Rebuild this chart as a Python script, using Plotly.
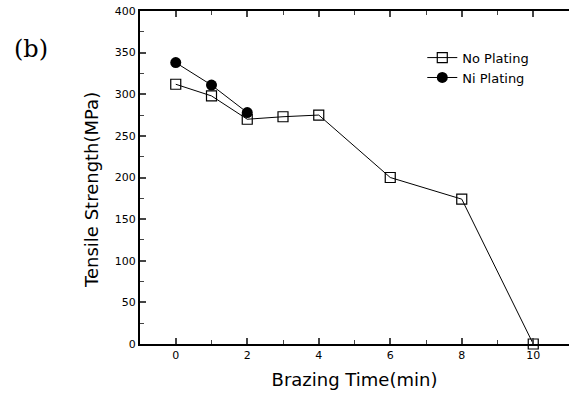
import plotly.graph_objects as go

time_no = [0, 1, 2, 3, 4, 6, 8, 10]
strength_no = [312, 298, 270, 273, 275, 200, 174, 0]
time_ni = [0, 1, 2]
strength_ni = [338, 311, 278]

fig = go.Figure()
fig.add_trace(go.Scatter(x=time_no, y=strength_no, mode="lines+markers", name="No Plating",
                         line=dict(color="black", width=1),
                         marker=dict(symbol="square-open", size=10, color="black", line=dict(width=1.2)),
                         cliponaxis=False))
fig.add_trace(go.Scatter(x=time_ni, y=strength_ni, mode="lines+markers", name="Ni Plating",
                         line=dict(color="black", width=1),
                         marker=dict(symbol="circle", size=11, color="black"),
                         cliponaxis=False))

font = "DejaVu Sans, Arial, sans-serif"
fig.update_layout(
    width=569, height=399,
    margin=dict(l=140, r=0, t=11, b=55),
    paper_bgcolor="white", plot_bgcolor="white",
    font=dict(family=font, color="black", size=11),
    showlegend=True,
    legend=dict(x=0.658, y=0.905, xanchor="left", yanchor="top", bgcolor="rgba(0,0,0,0)",
                font=dict(size=13), tracegroupgap=0, itemwidth=30),
    xaxis=dict(range=[-1, 11], tickvals=[0, 2, 4, 6, 8, 10], ticks="inside", ticklen=6, tickwidth=1.5,
               showline=True, linewidth=2, linecolor="black", mirror="ticks", showgrid=False, zeroline=False,
               minor=dict(tickvals=[1, 3, 5, 7, 9], ticks="inside", ticklen=4, tickwidth=1.2),
               title=dict(text="Brazing Time(min)", font=dict(size=18), standoff=12),
               tickfont=dict(size=11)),
    yaxis=dict(range=[0, 400], dtick=50, ticks="inside", ticklen=6, tickwidth=1.5,
               showline=True, linewidth=2, linecolor="black", showgrid=False, zeroline=False,
               minor=dict(dtick=25, ticks="inside", ticklen=4, tickwidth=1.2),
               tickfont=dict(size=11)),
)
fig.add_annotation(text="Tensile Strength(MPa)", xref="paper", yref="paper", x=-0.112, y=0.4625,
                   xanchor="center", yanchor="middle", textangle=-90, showarrow=False,
                   font=dict(size=18))
fig.add_annotation(text="(b)", xref="paper", yref="paper", x=-0.253, y=0.885,
                   xanchor="center", yanchor="middle", showarrow=False,
                   font=dict(family="DejaVu Serif, Liberation Serif, serif", size=24))
fig.write_html("out.html")
